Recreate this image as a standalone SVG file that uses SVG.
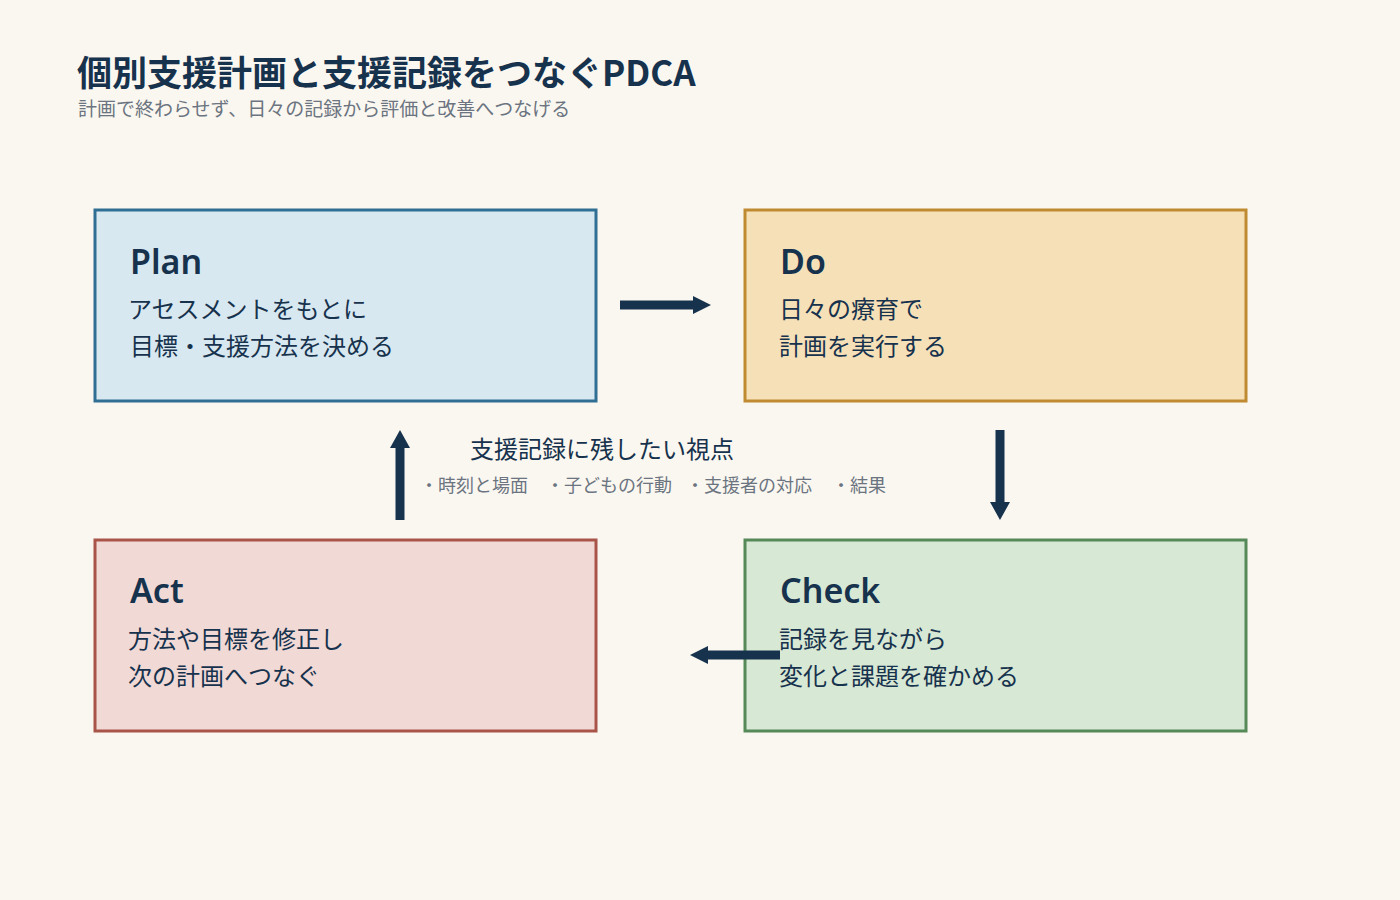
<svg xmlns="http://www.w3.org/2000/svg" width="1400" height="900" viewBox="0 0 1400 900">
<style>
.jp{font-family:"Noto Sans CJK JP","Noto Sans",sans-serif;}
.title{font-size:35px;font-weight:700;fill:#17324d;}
.sub{font-size:19px;fill:#6b7480;}
.head{font-family:"Noto Sans","Noto Sans CJK JP",sans-serif;font-size:34px;font-weight:600;fill:#17324d;}
.body{font-size:24px;fill:#17324d;}
.note{font-size:24px;fill:#17324d;}
.item{font-size:18px;fill:#6b7480;}
.box{stroke-width:3;}
.conn{fill:#17324d;}
</style>
<rect width="1400" height="900" fill="#faf7f0"/>
<text class="jp title" x="77" y="86">個別支援計画と支援記録をつなぐPDCA</text>
<text class="jp sub" x="78" y="116">計画で終わらせず、日々の記録から評価と改善へつなげる</text>

<g id="plan">
<rect class="box" x="95" y="210" width="501" height="191" fill="#d8e8f1" stroke="#2e6f93"/>
<text class="head" x="130" y="274">Plan</text>
<text class="jp body" x="128" y="318">アセスメントをもとに</text>
<text class="jp body" x="130" y="355">目標・支援方法を決める</text>
</g>
<g id="do">
<rect class="box" x="745" y="210" width="501" height="191" fill="#f5e0b8" stroke="#c08a30"/>
<text class="head" x="780" y="274">Do</text>
<text class="jp body" x="779" y="318">日々の療育で</text>
<text class="jp body" x="779" y="355">計画を実行する</text>
</g>
<g id="act">
<rect class="box" x="95" y="540" width="501" height="191" fill="#f1d9d6" stroke="#a85448"/>
<text class="head" x="130" y="603">Act</text>
<text class="jp body" x="128" y="648">方法や目標を修正し</text>
<text class="jp body" x="128" y="685">次の計画へつなぐ</text>
</g>
<g id="check">
<rect class="box" x="745" y="540" width="501" height="191" fill="#d7e8d5" stroke="#558a58"/>
<text class="head" x="780" y="603">Check</text>
<text class="jp body" x="779" y="648">記録を見ながら</text>
<text class="jp body" x="779" y="685">変化と課題を確かめる</text>
</g>
<g id="record-points">
<text class="jp note" x="602" y="458" text-anchor="middle">支援記録に残したい視点</text>
<text class="jp item" y="492"><tspan x="420">・時刻と場面</tspan><tspan x="546">・子どもの行動</tspan><tspan x="686">・支援者の対応</tspan><tspan x="832">・結果</tspan></text>
</g>
<g id="connectors">
<polygon class="conn" points="620,300.5 693,300.5 693,296 711,305 693,314 693,309.5 620,309.5"/>
<polygon class="conn" points="995.5,430 1004.5,430 1004.5,502 1010,502 1000,520 990,502 995.5,502"/>
<polygon class="conn" points="780,650.5 708,650.5 708,646 690,655 708,664 708,659.5 780,659.5"/>
<polygon class="conn" points="395.5,520 404.5,520 404.5,448 410,448 400,430 390,448 395.5,448"/>
</g>
</svg>
